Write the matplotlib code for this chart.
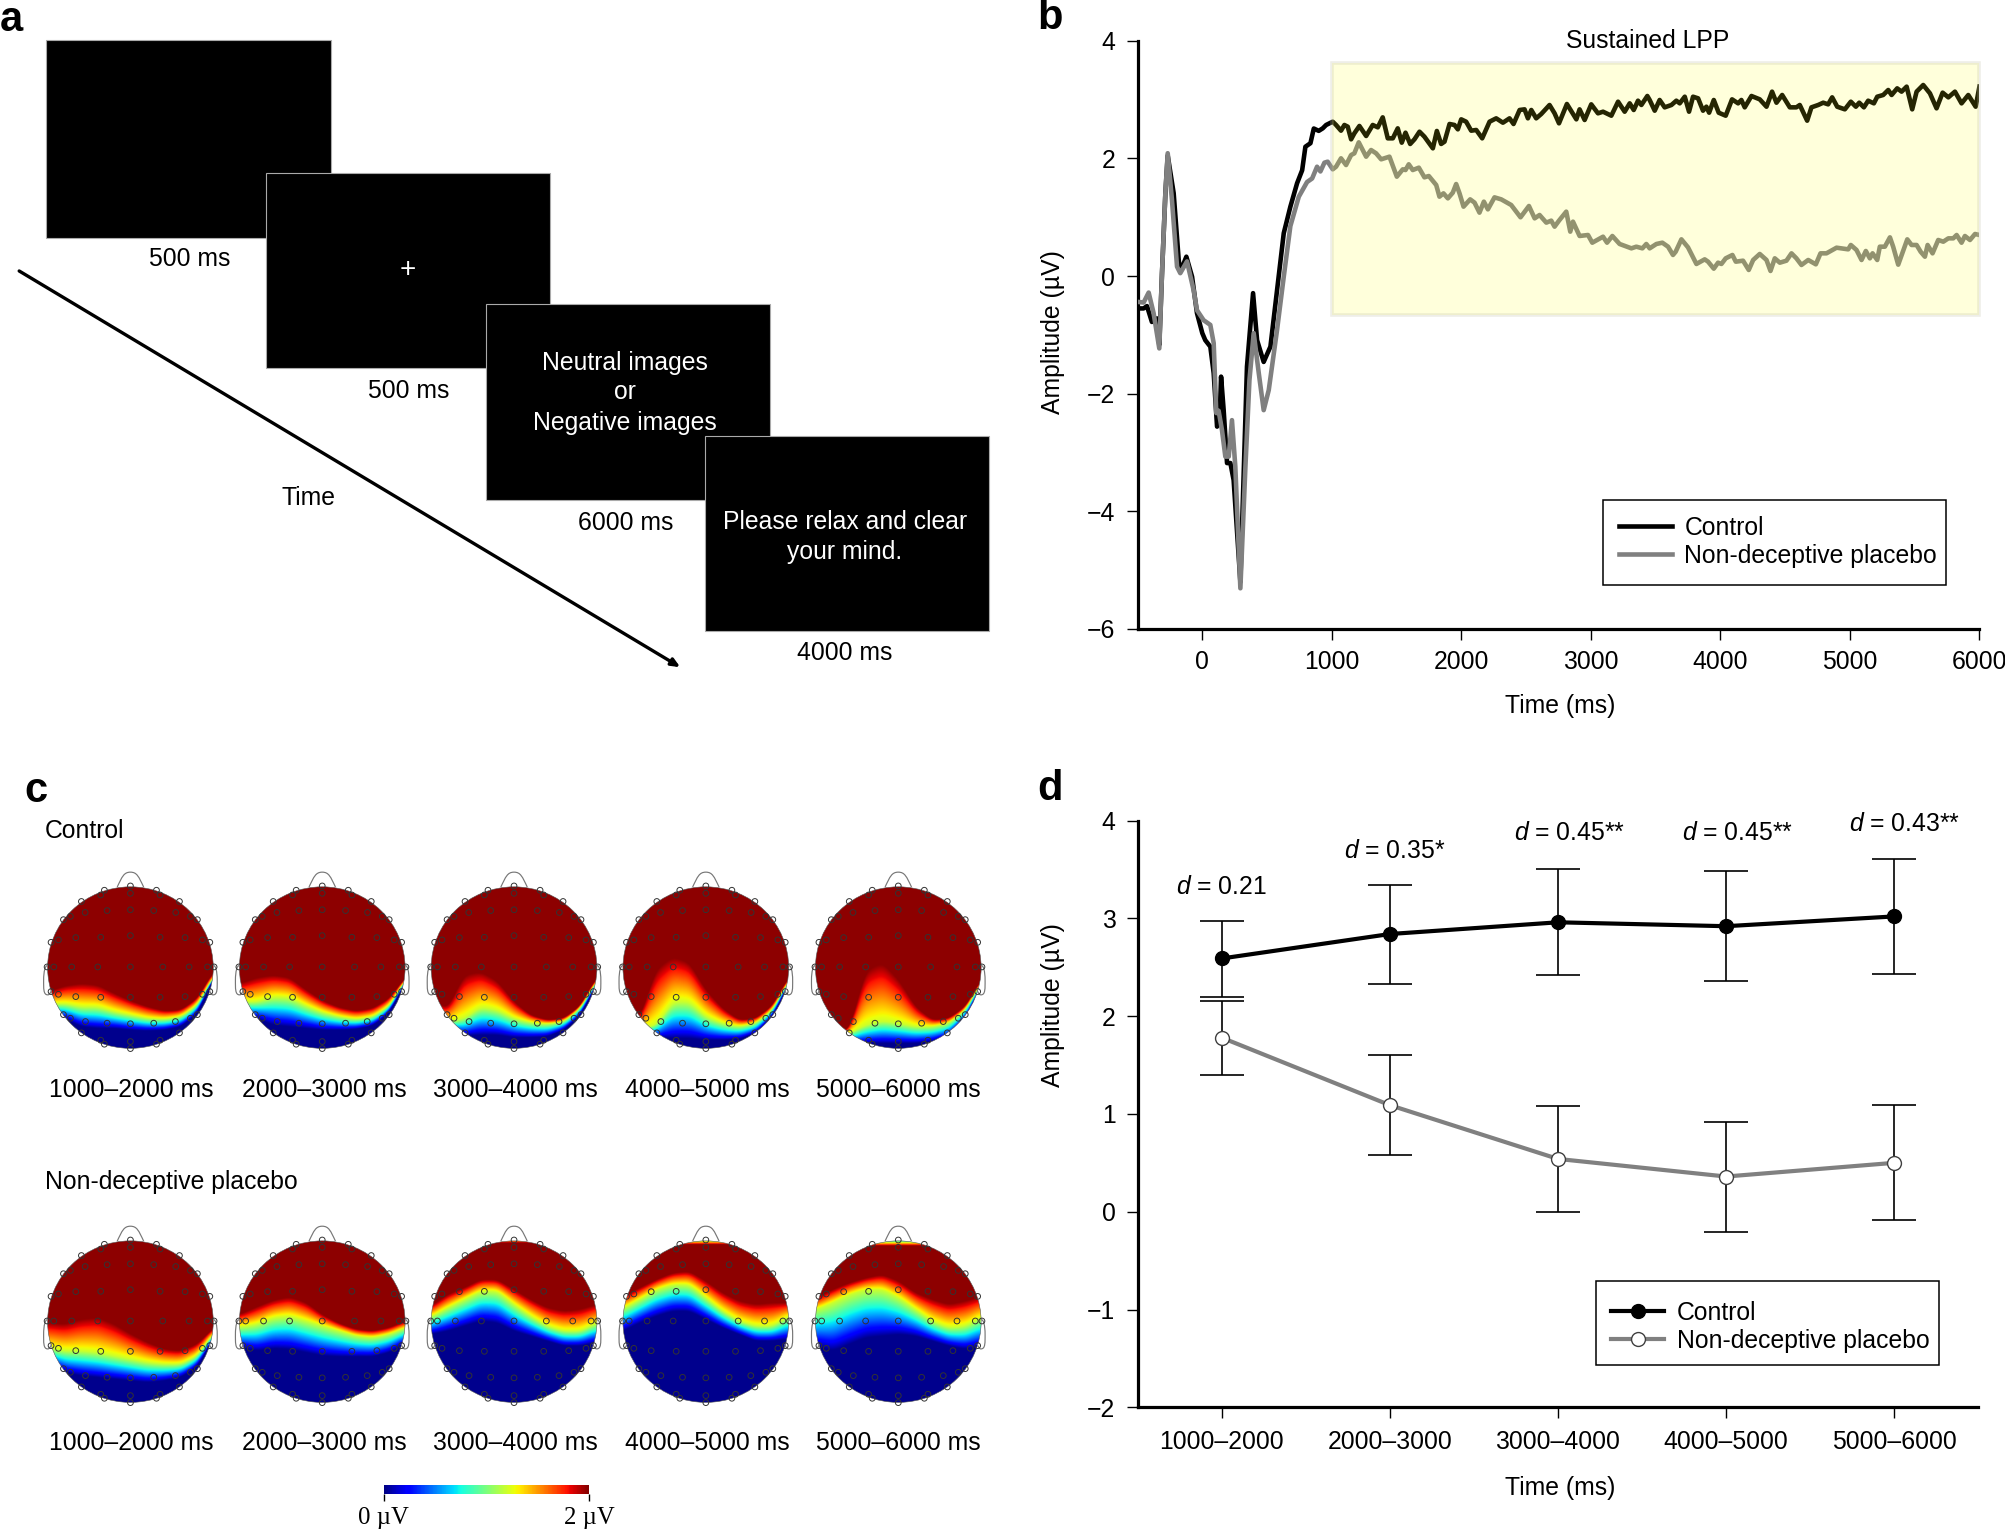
import numpy as np
import matplotlib
matplotlib.use("Agg")
import matplotlib.pyplot as plt
from matplotlib.patches import Rectangle, Ellipse, PathPatch
from matplotlib.path import Path
from matplotlib.cm import ScalarMappable
from matplotlib.colors import Normalize

plt.rcParams['font.family'] = ['Liberation Sans', 'DejaVu Sans']
plt.rcParams['mathtext.fontset'] = 'custom'
plt.rcParams['mathtext.it'] = 'Liberation Sans:italic'
plt.rcParams['mathtext.rm'] = 'Liberation Sans'

# ---------------- panel b data ----------------
control_t = [-490,-453,-427,-389,-350,-332,-311,-285,-267,-221,-182,-170,-123,-79,-41,0,23,62,88,114,134,145,165,191,217,242,294,345,392,423,474,526,577,629,680,732,771,796,835,861,899,
 930,956,1007,1033,1071,1097,1123,1149,1174,1213,1265,1316,1355,1393,1432,1471,1509,1540,1569,1605,1638,1677,1715,1780,1811,1844,1870,1909,1947,1973,1999,2037,2076,2115,2161,2218,2269,2321,2372,2403,2450,2488,2514,2540,2578,2617,2681,2720,2754,2815,2888,2913,2952,3003,3055,3094,3158,3210,3261,3300,3331,3364,3390,3436,
 3454,3493,3531,3570,3622,3660,3686,3725,3758,3789,3828,3866,3892,3913,3949,3987,4041,4090,4137,4162,4188,4240,4304,4356,4399,4433,4477,4536,4587,4613,4670,4703,4755,4794,4832,4863,4902,4961,5007,5046,5072,5108,5141,5185,5211,5257,5296,5322,5365,5399,5438,5481,5515,5566,5618,5669,5716,5760,5811,5862,5914,5971,6000]
control_v = [-.55,-.55,-.51,-.78,-.72,-1.17,.05,1.41,2.05,1.41,.27,.07,.33,-.01,-.63,-.97,-1.09,-1.2,-1.65,-2.56,-2.45,-1.71,-2.28,-3.18,-3.18,-3.47,-5.2,-1.54,-.29,-1.09,-1.46,-1.2,-.24,.73,1.18,1.58,1.8,2.2,2.26,2.51,2.47,
 2.513,2.57,2.626,2.57,2.473,2.57,2.541,2.326,2.428,2.553,2.383,2.57,2.53,2.70,2.343,2.343,2.513,2.269,2.439,2.247,2.326,2.456,2.371,2.173,2.468,2.247,2.286,2.587,2.57,2.496,2.666,2.626,2.473,2.485,2.343,2.626,2.683,2.609,2.683,2.587,2.825,2.836,2.683,2.825,2.683,2.757,2.91,2.768,2.598,2.927,2.666,2.836,2.655,2.921,2.768,2.796,2.728,2.966,2.796,2.938,2.825,2.983,2.91,3.063,
 2.995,2.813,2.995,2.87,2.91,2.983,2.938,3.051,2.796,3.051,3.023,2.813,2.881,2.779,2.995,2.779,2.728,3.006,2.938,2.995,2.87,3.063,3.006,2.881,3.137,2.949,3.08,2.87,2.87,2.91,2.643,2.87,2.91,2.949,2.921,3.04,2.881,2.836,2.966,2.881,2.949,2.87,2.983,2.938,3.051,3.08,3.165,3.08,3.193,3.137,3.222,2.836,3.137,3.25,3.108,2.853,3.12,3.04,3.137,2.938,3.08,2.881,3.222]
placebo_t = [-492,-453,-414,-376,-332,-311,-285,-267,-234,-195,-170,-118,-67,-41,10,62,88,108,126,152,178,204,229,255,294,333,364,397,436,474,513,577,629,680,745,809,848,886,912,
 943,968,1007,1033,1071,1110,1149,1174,1208,1265,1303,1342,1381,1406,1445,1502,1548,1569,1594,1625,1672,1715,1749,1806,1831,1862,1896,1934,1960,1986,2017,2068,2102,2140,2174,2205,2256,2308,2385,2457,2522,2566,2604,2656,2694,2720,2754,2810,2841,2862,2913,2978,3011,3094,3125,3166,3222,3313,3351,3398,3428,
 3454,3506,3552,3596,3634,3655,3699,3750,3815,3879,3905,3949,3982,4008,4041,4093,4119,4175,4219,4253,4304,4356,4387,4420,4459,4510,4549,4587,4626,4678,4737,4773,4819,4897,4987,5007,5051,5090,5123,5154,5175,5211,5231,5270,5309,5334,5373,5443,5476,5515,5546,5579,5600,5638,5682,5721,5760,5798,5824,5862,5888,5927,5966,6000]
placebo_v = [-.44,-.45,-.28,-.63,-1.23,.05,1.41,2.09,1.29,.16,.05,.25,-.24,-.58,-.75,-.83,-1.14,-2.33,-2.29,-2.62,-3.07,-3.07,-2.45,-3.24,-5.31,-3.24,-1.77,-.97,-1.65,-2.28,-1.94,-.92,-.01,.85,1.35,1.6,1.66,1.86,1.78,
 1.929,1.946,1.816,1.861,2.003,1.889,2.059,2.088,2.275,2.031,2.144,2.088,1.986,2.003,2.031,1.691,1.816,1.804,1.901,1.804,1.844,1.68,1.702,1.549,1.351,1.407,1.322,1.419,1.566,1.407,1.181,1.305,1.249,1.079,1.266,1.135,1.339,1.305,1.209,1.0,1.192,.982,1.039,.909,.943,.841,.943,1.096,.756,.926,.682,.699,.568,.67,.568,.682,.546,.472,.5,.472,.546,
 .472,.546,.568,.5,.359,.415,.625,.489,.206,.285,.245,.126,.228,.206,.302,.359,.245,.262,.104,.274,.376,.274,.087,.302,.228,.262,.387,.302,.189,.274,.2,.387,.387,.483,.455,.529,.444,.274,.427,.302,.387,.274,.5,.5,.659,.5,.194,.625,.529,.529,.415,.33,.529,.387,.614,.585,.642,.642,.699,.568,.682,.614,.716,.699]
series_labels = ['Control', 'Non-deceptive placebo']
b_xticks = [0, 1000, 2000, 3000, 4000, 5000, 6000]
b_yticks = [-6, -4, -2, 0, 2, 4]
lpp_window = (1000, 6000, -0.66, 3.63)

# ---------------- panel d data ----------------
windows = ['1000–2000', '2000–3000', '3000–4000', '4000–5000', '5000–6000']
ctrl_mean = [2.59, 2.84, 2.96, 2.92, 3.02]
ctrl_hi = [2.97, 3.34, 3.50, 3.48, 3.61]
ctrl_lo = [2.20, 2.33, 2.42, 2.36, 2.43]
plac_mean = [1.78, 1.09, 0.54, 0.36, 0.50]
plac_hi = [2.16, 1.60, 1.08, 0.92, 1.09]
plac_lo = [1.40, 0.58, 0.00, -0.21, -0.08]
effects = ['$d$ = 0.21', '$d$ = 0.35*', '$d$ = 0.45**', '$d$ = 0.45**', '$d$ = 0.43**']
effect_y = [3.32, 3.69, 3.87, 3.87, 3.97]
effect_dx = [0.0, 0.03, 0.07, 0.07, 0.06]

# ---------------- panel c data: head-map transition lines ----------------
stations = [-1, -.8, -.6, -.4, -.2, 0, .2, .4, .6, .8, 1]
c_low = [[-.6,-.62,-.72,-.74,-.74,-.76,-.77,-.76,-.72,-.56,-.12],
         [-.6,-.62,-.70,-.72,-.74,-.76,-.76,-.75,-.71,-.55,-.17],
         [-.7,-.75,-.83,-.82,-.82,-.85,-.85,-.84,-.76,-.58,-.20],
         [-.75,-.80,-.85,-.86,-.86,-.88,-.88,-.87,-.80,-.60,-.20],
         [-.85,-.90,-.92,-.92,-.92,-.92,-.92,-.90,-.84,-.62,-.22]]
c_mid = [[-.45,-.44,-.48,-.48,-.54,-.58,-.62,-.63,-.60,-.46,-.10],
         [-.42,-.42,-.36,-.37,-.47,-.55,-.60,-.63,-.60,-.47,-.14],
         [-.6,-.66,-.62,-.48,-.52,-.62,-.67,-.69,-.66,-.50,-.16],
         [-.7,-.75,-.70,-.42,-.42,-.60,-.68,-.72,-.68,-.52,-.16],
         [-.8,-.85,-.80,-.70,-.65,-.68,-.72,-.72,-.68,-.52,-.18]]
c_high = [[-.3,-.23,-.20,-.22,-.32,-.41,-.48,-.53,-.52,-.38,-.05],
          [-.2,-.13,-.10,-.13,-.28,-.41,-.49,-.53,-.50,-.38,-.12],
          [-.4,-.50,-.10,-.06,-.17,-.42,-.58,-.64,-.62,-.47,-.12],
          [-.6,-.62,-.03,.12,.05,-.28,-.50,-.64,-.62,-.47,-.12],
          [-.75,-.78,-.76,-.05,.05,-.16,-.48,-.64,-.62,-.48,-.14]]
p_low = [[-.5,-.62,-.66,-.68,-.70,-.72,-.74,-.72,-.68,-.55,-.20],
         [-.32,-.36,-.33,-.34,-.38,-.42,-.43,-.43,-.43,-.38,-.26],
         [-.16,-.12,-.06,0,-.02,-.12,-.18,-.24,-.30,-.30,-.26],
         [-.12,-.02,.06,.12,.12,.02,-.08,-.16,-.24,-.24,-.22],
         [-.3,-.36,-.28,-.20,-.18,-.16,-.18,-.24,-.30,-.34,-.30]]
p_mid = [[-.32,-.36,-.36,-.38,-.42,-.46,-.50,-.52,-.52,-.42,-.14],
         [-.07,-.04,.04,.06,0,-.06,-.12,-.18,-.20,-.16,-.08],
         [.05,.16,.26,.36,.36,.20,.06,-.06,-.12,-.12,-.02],
         [.15,.26,.38,.44,.44,.28,.12,0,-.06,-.06,.06],
         [.14,.22,.32,.38,.38,.28,.14,0,-.08,-.06,.05]]
p_high = [[-.02,-.04,.02,.04,-.04,-.16,-.26,-.34,-.36,-.28,-.08],
          [.08,.17,.25,.29,.22,.07,-.03,-.10,-.12,-.08,0],
          [.18,.32,.40,.50,.50,.38,.26,.16,.12,.14,.20],
          [.30,.40,.50,.58,.60,.48,.34,.24,.20,.22,.22],
          [.28,.38,.46,.52,.56,.48,.34,.26,.20,.24,.30]]
p_cap = [2, 2, .945, .925, .91]
map_labels = ['1000–2000 ms', '2000–3000 ms', '3000–4000 ms', '4000–5000 ms', '5000–6000 ms']

elec_x = [0,0,-.315,.315,-.359,.359,-.593,.593,-.548,-.282,0,.282,.548,-.81,-.726,.726,.81,
 -.96,-.871,-.661,-.359,0,.359,.661,.871,.96,-1.008,-.927,-.710,-.395,0,.391,.710,.932,1.012,
 -.96,-.871,-.661,-.359,0,.359,.661,.871,.96,-.81,-.726,-.544,-.282,0,.282,.544,.726,.81,
 -.593,-.359,-.315,0,0,.359,.315,.593]
elec_y = [.988,.899,.936,.936,.879,.879,.80,.80,.667,.69,.70,.69,.667,.58,.62,.62,.58,
 .306,.335,.363,.367,.387,.367,.363,.335,.306,.008,.008,.008,.008,.008,.008,.008,.008,.008,
 -.29,-.323,-.351,-.359,-.359,-.359,-.351,-.323,-.29,-.569,-.613,-.653,-.673,-.68,-.673,-.653,-.613,-.569,
 -.79,-.879,-.927,-.895,-.98,-.879,-.927,-.79]

# ---------------- layout ----------------
FW, FH = 1568.0, 1197.0
fig = plt.figure(figsize=(20.05, 15.30), dpi=100, facecolor='white')
FS = 17.8

def rect(l, t, r, b):
    return [l/FW, 1-b/FH, (r-l)/FW, (b-t)/FH]

ov = fig.add_axes([0, 0, 1, 1])
ov.set_xlim(0, FW); ov.set_ylim(FH, 0); ov.axis('off')

def T(x, y, s, **kw):
    kw.setdefault('fontsize', FS); kw.setdefault('ha', 'center'); kw.setdefault('va', 'center')
    return ov.text(x, y+1.0, s, **kw)

for s, x, y in [('a', 9, 15), ('b', 821, 13), ('c', 28, 618), ('d', 821, 616)]:
    T(x, y, s, fontsize=30, fontweight='bold')

# panel a
for (l, t, h), lab, lx, ly in zip([(36, 31, 155), (208, 135, 153), (380, 238, 153), (551, 341, 153)],
                                  ['500 ms', '500 ms', '6000 ms', '4000 ms'],
                                  [148, 319.5, 489.5, 660.5], [202, 305, 408, 510]):
    ov.add_patch(Rectangle((l, t), 222.5, h, fc='black', ec='#aaaaaa', lw=0.8))
    T(lx, ly, lab)
T(319, 210.5, '+', color='white', fontsize=20)
for y, s in [(283, 'Neutral images'), (306, 'or'), (330, 'Negative images')]:
    T(488.5, y, s, color='white')
for y, s in [(407, 'Please relax and clear'), (431, 'your mind.')]:
    T(660.5, y, s, color='white')
T(241, 389, 'Time')
ov.annotate('', xy=(532, 522), xytext=(15, 212),
            arrowprops=dict(arrowstyle='-|>,head_length=0.5,head_width=0.22', lw=2.4, color='black',
                            shrinkA=0, shrinkB=0))

# panel c
def smooth(arr):
    fine = np.linspace(-1.06, 1.06, 425)
    y = np.interp(fine, stations, arr)
    k = np.ones(21)/21
    for _ in range(2):
        y = np.convolve(np.pad(y, 10, mode='edge'), k, mode='valid')
    return fine, y

def head(cx, cy, low, mid, high, cap):
    R = 64.65
    fine, L = smooth(low); _, M = smooth(mid); _, H = smooth(high)
    ys = np.linspace(-1.06, 1.06, 425)
    Z = np.zeros((ys.size, fine.size))
    for j in range(fine.size):
        Z[:, j] = np.interp(ys, [L[j], M[j], H[j]], [0, .6, 1])
    Z = np.minimum(Z, 1 - np.clip(ys - cap, 0, None)[:, None]/0.10)
    im = ov.imshow(Z, cmap='jet', vmin=-.015, vmax=1.015, origin='lower', aspect='auto', interpolation='bilinear',
                   extent=(cx-1.06*R, cx+1.06*R, cy+1.06*R, cy-1.06*R), zorder=2)
    clip = Ellipse((cx, cy), 2*64.8, 2*63.2, transform=ov.transData)
    im.set_clip_path(clip)
    ov.add_patch(Ellipse((cx, cy), 2*64.8, 2*63.2, fc='none', ec='#555555', lw=0.4, zorder=3))
    col = '#777777'
    nose = Path([(cx-.16*R, cy-.975*R), (cx-.10*R, cy-1.10*R), (cx-.08*R, cy-1.155*R), (cx, cy-1.155*R),
                 (cx+.08*R, cy-1.155*R), (cx+.10*R, cy-1.10*R), (cx+.16*R, cy-.975*R)],
                [Path.MOVETO]+[Path.CURVE4]*6)
    ov.add_patch(PathPatch(nose, fc='none', ec=col, lw=0.85, zorder=3))
    for sgn in (-1, 1):
        ear = Path([(cx+sgn*R*1.0, cy-.02*R), (cx+sgn*R*1.03, cy-.04*R), (cx+sgn*R*1.05, cy+.05*R), (cx+sgn*R*1.05, cy+.15*R),
                    (cx+sgn*R*1.05, cy+.25*R), (cx+sgn*R*1.055, cy+.33*R), (cx+sgn*R*1.0, cy+.33*R),
                    (cx+sgn*R*.975, cy+.33*R), (cx+sgn*R*.96, cy+.29*R), (cx+sgn*R*.955, cy+.27*R)],
                   [Path.MOVETO]+[Path.CURVE4]*9)
        ov.add_patch(PathPatch(ear, fc='none', ec=col, lw=0.85, zorder=3))
    ov.scatter(cx+np.array(elec_x)*R, cy-np.array(elec_y)*R, s=17, facecolors='none',
               edgecolors='#333333', linewidths=0.7, zorder=4)

centers = [102, 252, 402, 552, 702.5]
label_x = [102.5, 254, 403, 553, 702.5]
T(35, 649, 'Control', ha='left')
T(35, 924, 'Non-deceptive placebo', ha='left')
for i in range(5):
    head(centers[i], 757, c_low[i], c_mid[i], c_high[i], 2)
    head(centers[i], 1034, p_low[i], p_mid[i], p_high[i], p_cap[i])
    T(label_x[i], 852, map_labels[i])
    T(label_x[i], 1128, map_labels[i])
ov.set_xlim(0, FW); ov.set_ylim(FH, 0)

cax = fig.add_axes(rect(300, 1162, 461, 1169))
cb = fig.colorbar(ScalarMappable(norm=Normalize(0, 2), cmap='jet'), cax=cax, orientation='horizontal', ticks=[0, 2])
cb.outline.set_visible(False)
cb.ax.set_xticklabels(['0 µV', '2 µV'], family='Liberation Serif', fontsize=FS)
cb.ax.tick_params(length=5, width=1, pad=4)

# panel b
axb = fig.add_axes(rect(889.6, 32, 1548, 492))
axb.plot(control_t, control_v, color='black', lw=3.3, label=series_labels[0], solid_joinstyle='round', zorder=3)
axb.plot(placebo_t, placebo_v, color='#808080', lw=3.3, label=series_labels[1], solid_joinstyle='round', zorder=3.5)
axb.add_patch(Rectangle((lpp_window[0], lpp_window[2]), lpp_window[1]-lpp_window[0], lpp_window[3]-lpp_window[2],
                        fc=(1, 1, .07, .15), ec=(.75, .75, .65, .25), lw=2.6, zorder=4, clip_on=False))
axb.set_xlim(-500, 6000); axb.set_ylim(-6, 4)
axb.set_xticks(b_xticks); axb.set_yticks(b_yticks)
axb.text(3435, 4.0, 'Sustained LPP', fontsize=FS, ha='center', va='center')
axb.set_xlabel('Time (ms)', fontsize=FS)
axb.xaxis.set_label_coords((1220-889.6)/(1548-889.6), -(543-492)/460, transform=axb.transAxes)
axb.set_ylabel('Amplitude (µV)', fontsize=FS)
axb.yaxis.set_label_coords(-(889.6-833)/(1548-889.6), (492-260)/460, transform=axb.transAxes)

# panel d
axd = fig.add_axes(rect(889.75, 642, 1547, 1101))
xs = np.arange(len(windows))
cm, pm = np.array(ctrl_mean), np.array(plac_mean)
axd.errorbar(xs, cm, yerr=[cm-np.array(ctrl_lo), np.array(ctrl_hi)-cm], fmt='none', ecolor='black', elinewidth=1.2, capsize=16, capthick=1.2, zorder=2)
axd.errorbar(xs, pm, yerr=[pm-np.array(plac_lo), np.array(plac_hi)-pm], fmt='none', ecolor='black', elinewidth=1.2, capsize=16, capthick=1.2, zorder=2)
axd.plot(xs, ctrl_mean, '-o', color='black', lw=3, ms=10, label=series_labels[0], zorder=3)
axd.plot(xs, plac_mean, '-o', color='#808080', lw=3, ms=10, mfc='white', mec='#404040', mew=1.0, label=series_labels[1], zorder=3)
axd.set_xlim(-.5, 4.5); axd.set_ylim(-2, 4)
axd.set_xticks(xs); axd.set_xticklabels(windows)
axd.set_yticks(range(-2, 5))
for x, y, s, dx in zip(xs, effect_y, effects, effect_dx):
    axd.text(x+dx, y, s, fontsize=FS, ha='center', va='center')
axd.set_xlabel('Time (ms)', fontsize=FS)
axd.xaxis.set_label_coords((1220-889.75)/(1547-889.75), -(1155-1101)/459, transform=axd.transAxes)
axd.set_ylabel('Amplitude (µV)', fontsize=FS)
axd.yaxis.set_label_coords(-(889.75-833)/(1547-889.75), (1101-786)/459, transform=axd.transAxes)

for ax in (axb, axd):
    for sp in ('top', 'right'):
        ax.spines[sp].set_visible(False)
    for sp in ('left', 'bottom'):
        ax.spines[sp].set_linewidth(2.3)
    ax.tick_params(labelsize=FS, length=8, width=1.0, pad=8)
axb.tick_params(axis='x', pad=7)

for ax, (l, t, r, b), mid_y in ((axb, (1254, 391, 1522, 458), 424), (axd, (1248, 1002, 1516, 1068), 1038)):
    box = rect(l, t, r, b)
    ax.add_patch(Rectangle((box[0], box[1]), box[2], box[3], transform=fig.transFigure, fc='white', ec='black',
                           lw=1.1, zorder=5, clip_on=False))
    anchor = rect(l, mid_y-30, r, mid_y+30)
    leg = ax.legend(loc='center left', bbox_to_anchor=anchor, bbox_transform=fig.transFigure,
                    mode='expand', fontsize=FS, frameon=False,
                    borderaxespad=0, borderpad=0.62, handlelength=2.15, handletextpad=0.5, labelspacing=0.16)
    leg.set_zorder(6)

fig.savefig('out.png', dpi=100, facecolor='white')
